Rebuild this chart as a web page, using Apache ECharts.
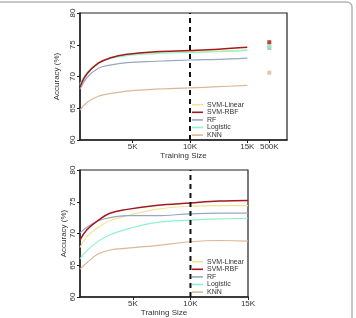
<!DOCTYPE html>
<html>
<head>
<meta charset="utf-8">
<script src="https://cdn.jsdelivr.net/npm/echarts@6/dist/echarts.min.js"></script>
<style>
  html, body { margin: 0; padding: 0; background: #fff; }
  #chart { width: 356px; height: 318px; }
</style>
</head>
<body>
<div id="chart"></div>
<script>
// 图例名称与颜色
var methodNames = ['SVM-Linear', 'SVM-RBF', 'RF', 'Logistic', 'KNN'];
var methodColors = ['#efe595', '#a3191e', '#97a6c4', '#8ff2cc', '#ddb796'];

// 训练样本数（x）
var trainSizes = [400, 1000, 2000, 3000, 4500, 7000, 10000, 12500, 15000];
var cutoffSize = 10000;
var fullSize = 16920;        // 500K 点在轴上的位置
var fullLabel = '500K';

// 上图：准确率 (%)
var topLinear   = [68.8, 70.5, 72.2, 72.9, 73.4, 73.8, 73.9, 74.0, 74.2];
var topRbf      = [68.4, 70.4, 72.1, 72.9, 73.5, 73.9, 74.1, 74.3, 74.6];
var topRf       = [68.0, 69.8, 71.3, 71.8, 72.2, 72.4, 72.6, 72.7, 72.9];
var topLogistic = [68.6, 70.6, 72.1, 72.8, 73.3, 73.6, 73.8, 73.9, 74.1];
var topKnn      = [64.7, 65.9, 66.9, 67.3, 67.7, 68.0, 68.2, 68.4, 68.6];
// 500K 时的准确率
var fullAcc = [75.0, 75.4, 74.5, 74.7, 70.6];

// 下图：准确率 (%)
var botLinear   = [67.8, 69.5, 71.0, 72.0, 72.8, 73.8, 74.3, 74.4, 74.4];
var botRbf      = [69.0, 70.6, 72.1, 73.2, 73.8, 74.4, 74.8, 75.1, 75.2];
var botRf       = [70.1, 71.0, 72.0, 72.5, 72.8, 72.8, 73.1, 73.2, 73.2];
var botLogistic = [66.0, 67.3, 68.8, 69.8, 70.7, 71.7, 72.1, 72.3, 72.4];
var botKnn      = [64.4, 65.4, 66.8, 67.4, 67.7, 68.1, 68.7, 68.9, 68.8];

var topData = [topLinear, topRbf, topRf, topLogistic, topKnn];
var botData = [botLinear, botRbf, botRf, botLogistic, botKnn];

var FONT = 'Liberation Sans';
var TXT = '#333';

function pairs(xs, ys) {
    var list = [];
    for (var i = 0; i < xs.length; i++) list.push([xs[i], ys[i]]);
    return list;
}

function sizeLabel(v) {
    if (v === fullSize) return fullLabel;
    return (v / 1000) + 'K';
}

function xAxisOf(gridIndex, min, max, ticks) {
    return {
        type: 'value', gridIndex: gridIndex, min: min, max: max,
        name: 'Training Size', nameLocation: 'middle', nameGap: 12,
        nameTextStyle: {fontFamily: FONT, fontSize: 8, color: TXT},
        axisLine: {show: true, lineStyle: {color: '#222', width: 1.5}},
        axisTick: {show: true, length: 3, customValues: ticks, lineStyle: {color: '#222'}},
        axisLabel: {customValues: ticks, formatter: sizeLabel, margin: 3,
            fontFamily: FONT, fontSize: 8, color: TXT},
        splitLine: {show: false}
    };
}

function yAxisOf(gridIndex) {
    return {
        type: 'value', gridIndex: gridIndex, min: 60, max: 80, interval: 5,
        name: 'Accuracy (%)', nameLocation: 'middle', nameGap: 12, nameRotate: 90,
        nameTextStyle: {fontFamily: FONT, fontSize: 8, color: TXT},
        axisLine: {show: true, lineStyle: {color: '#222', width: 1.5}},
        axisTick: {show: true, length: 3, lineStyle: {color: '#222'}},
        axisLabel: {rotate: 90, margin: 3, fontFamily: FONT, fontSize: 8, color: TXT},
        splitLine: {show: false}
    };
}

var series = [];
for (var k = 0; k < methodNames.length; k++) {
    series.push({
        name: methodNames[k], type: 'line', xAxisIndex: 0, yAxisIndex: 0,
        smooth: 0.4, symbol: 'none', data: pairs(trainSizes, topData[k]),
        lineStyle: {color: methodColors[k], width: k === 1 ? 1.5 : 1.2},
        itemStyle: {color: methodColors[k]}, z: k === 1 ? 5 : 3
    });
    series.push({
        name: methodNames[k], type: 'line', xAxisIndex: 1, yAxisIndex: 1,
        smooth: 0.4, symbol: 'none', data: pairs(trainSizes, botData[k]),
        lineStyle: {color: methodColors[k], width: k === 1 ? 1.5 : 1.2},
        itemStyle: {color: methodColors[k]}, z: k === 1 ? 5 : 3
    });
    series.push({
        name: methodNames[k] + ' 500K', type: 'scatter', xAxisIndex: 0, yAxisIndex: 0,
        symbol: 'rect', symbolSize: 4, data: [[fullSize, fullAcc[k]]],
        itemStyle: {color: methodColors[k]}, z: k === 1 ? 5 : 3
    });
}
// 10K 分界虚线
[0, 1].forEach(function (g) {
    series.push({
        type: 'line', xAxisIndex: g, yAxisIndex: g, symbol: 'none', z: 6,
        data: [[cutoffSize, 60], [cutoffSize, 80]],
        lineStyle: {color: '#111', width: 2, type: [5, 4]}
    });
});

function legendOf(top) {
    return {
        data: methodNames, orient: 'vertical', left: 192, top: top, padding: 0,
        icon: 'rect', itemWidth: 11, itemHeight: 1.6, itemGap: 0.2,
        textStyle: {fontFamily: FONT, fontSize: 7, color: TXT, lineHeight: 7.4, padding: [0, 0, 0, -1]},
        selectedMode: false
    };
}

var option = {
    animation: false,
    graphic: [{
        type: 'rect', silent: true,
        shape: {x: -10, y: 2, width: 362, height: 340, r: 5},
        style: {fill: 'none', stroke: '#b5b5b5', lineWidth: 1.5}
    }],
    legend: [legendOf(101), legendOf(258)],
    grid: [
        {left: 80, top: 13, width: 207, height: 127, show: true, borderColor: '#222', borderWidth: 1.2},
        {left: 80, top: 170, width: 168, height: 128, show: true, borderColor: '#222', borderWidth: 1.2}
    ],
    xAxis: [
        xAxisOf(0, 400, 18465, [5000, 10000, 15000, fullSize]),
        xAxisOf(1, 400, 15000, [5000, 10000, 15000])
    ],
    yAxis: [yAxisOf(0), yAxisOf(1)],
    series: series
};

var myChart = echarts.init(document.getElementById('chart'));
myChart.setOption(option);
</script>
</body>
</html>
